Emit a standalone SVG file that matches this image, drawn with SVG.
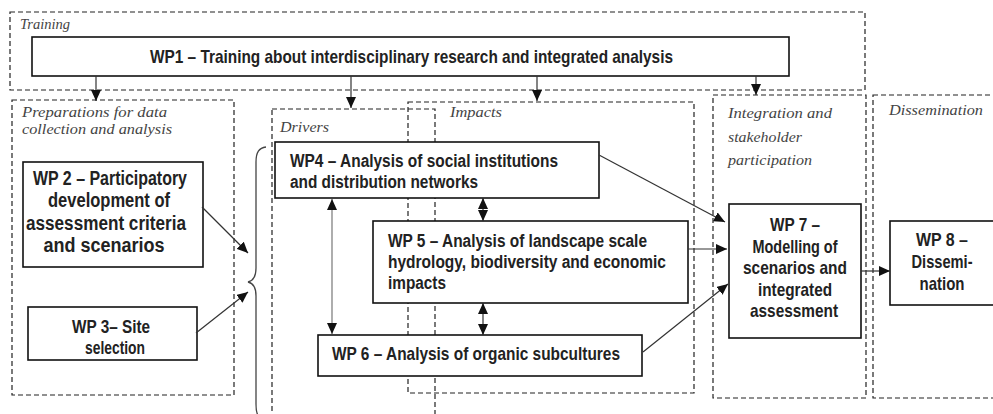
<svg xmlns="http://www.w3.org/2000/svg" width="993" height="414" viewBox="0 0 993 414">
  <style>
    .zone { fill: none; stroke: #222; stroke-width: 1.2; stroke-dasharray: 5 3; }
    .zlabel { font-family: "Liberation Serif", "DejaVu Serif", serif; font-style: italic; font-size: 15px; fill: #444; }
    .box { fill: #fff; stroke: #111; stroke-width: 1.6; }
    .t { font-family: "Liberation Sans", Arial, sans-serif; font-weight: bold; fill: #222; }
    .c { text-anchor: middle; }
    .link { fill: none; stroke: #333; stroke-width: 1.2; }
    .brace { fill: none; stroke: #444; stroke-width: 1.3; }
  </style>
  <defs>
    <marker id="ah" markerUnits="userSpaceOnUse" markerWidth="12" markerHeight="10" refX="11" refY="5" orient="auto-start-reverse">
      <path d="M0,0 L11,5 L0,10 z" fill="#111"/>
    </marker>
  </defs>

  <rect width="993" height="414" fill="#fff"/>

  <!-- dashed work areas -->
  <g id="zone-training">
    <rect class="zone" x="10" y="12" width="855" height="78"/>
    <text class="zlabel" x="20" y="29" textLength="50" lengthAdjust="spacingAndGlyphs">Training</text>
  </g>
  <g id="zone-preparations">
    <rect class="zone" x="12" y="100" width="222" height="295"/>
    <text class="zlabel" x="22" y="117" textLength="145" lengthAdjust="spacingAndGlyphs">Preparations for data</text>
    <text class="zlabel" x="22" y="134" textLength="150" lengthAdjust="spacingAndGlyphs">collection and analysis</text>
  </g>
  <g id="zone-impacts">
    <rect class="zone" x="408" y="102" width="286" height="291"/>
    <text class="zlabel" x="450" y="117" textLength="52" lengthAdjust="spacingAndGlyphs">Impacts</text>
  </g>
  <g id="zone-drivers">
    <rect class="zone" x="272" y="109" width="163" height="320"/>
    <text class="zlabel" x="280" y="132" textLength="49" lengthAdjust="spacingAndGlyphs">Drivers</text>
  </g>
  <g id="zone-integration">
    <rect class="zone" x="713" y="95" width="153" height="303"/>
    <text class="zlabel" x="728" y="118" textLength="104" lengthAdjust="spacingAndGlyphs">Integration and</text>
    <text class="zlabel" x="728" y="142" textLength="74" lengthAdjust="spacingAndGlyphs">stakeholder</text>
    <text class="zlabel" x="728" y="165" textLength="84" lengthAdjust="spacingAndGlyphs">participation</text>
  </g>
  <g id="zone-dissemination">
    <rect class="zone" x="873" y="95" width="130" height="303"/>
    <text class="zlabel" x="889" y="115" textLength="94" lengthAdjust="spacingAndGlyphs">Dissemination</text>
  </g>

  <!-- work packages -->
  <g id="wp1">
    <rect class="box" x="32" y="37" width="757" height="39"/>
    <text class="t" x="150" y="63" font-size="19" textLength="523" lengthAdjust="spacingAndGlyphs">WP1 – Training about interdisciplinary research and integrated analysis</text>
  </g>
  <g id="wp2">
    <rect class="box" x="23" y="162" width="180" height="105"/>
    <text class="t c" x="110" y="185" font-size="20" textLength="154" lengthAdjust="spacingAndGlyphs">WP 2 – Participatory</text>
    <text class="t c" x="109" y="207" font-size="20" textLength="122" lengthAdjust="spacingAndGlyphs">development of</text>
    <text class="t c" x="106" y="230" font-size="20" textLength="160" lengthAdjust="spacingAndGlyphs">assessment criteria</text>
    <text class="t c" x="104" y="252" font-size="20" textLength="121" lengthAdjust="spacingAndGlyphs">and scenarios</text>
  </g>
  <g id="wp3">
    <rect class="box" x="28" y="307" width="169" height="53"/>
    <text class="t c" x="111" y="333" font-size="19" textLength="78" lengthAdjust="spacingAndGlyphs">WP 3– Site</text>
    <text class="t c" x="115" y="354" font-size="19" textLength="60" lengthAdjust="spacingAndGlyphs">selection</text>
  </g>
  <g id="wp4">
    <rect class="box" x="275" y="142" width="324" height="56"/>
    <text class="t" x="290" y="167" font-size="18" textLength="268" lengthAdjust="spacingAndGlyphs">WP4 – Analysis of social institutions</text>
    <text class="t" x="290" y="188" font-size="18" textLength="188" lengthAdjust="spacingAndGlyphs">and distribution networks</text>
  </g>
  <g id="wp5">
    <rect class="box" x="373" y="221" width="315" height="82"/>
    <text class="t" x="388" y="247" font-size="18" textLength="259" lengthAdjust="spacingAndGlyphs">WP 5 – Analysis of landscape scale</text>
    <text class="t" x="388" y="268" font-size="18" textLength="278" lengthAdjust="spacingAndGlyphs">hydrology, biodiversity and economic</text>
    <text class="t" x="388" y="289" font-size="18" textLength="58" lengthAdjust="spacingAndGlyphs">impacts</text>
  </g>
  <g id="wp6">
    <rect class="box" x="318" y="335" width="324" height="41"/>
    <text class="t" x="332" y="360" font-size="19" textLength="288" lengthAdjust="spacingAndGlyphs">WP 6 – Analysis of organic subcultures</text>
  </g>
  <g id="wp7">
    <rect class="box" x="729" y="204" width="132" height="134"/>
    <text class="t c" x="795" y="231" font-size="19" textLength="50" lengthAdjust="spacingAndGlyphs">WP 7 –</text>
    <text class="t c" x="795" y="253" font-size="19" textLength="85" lengthAdjust="spacingAndGlyphs">Modelling of</text>
    <text class="t c" x="795" y="274" font-size="19" textLength="104" lengthAdjust="spacingAndGlyphs">scenarios and</text>
    <text class="t c" x="795" y="296" font-size="19" textLength="74" lengthAdjust="spacingAndGlyphs">integrated</text>
    <text class="t c" x="794" y="317" font-size="19" textLength="88" lengthAdjust="spacingAndGlyphs">assessment</text>
  </g>
  <g id="wp8">
    <rect class="box" x="890" y="221" width="110" height="84"/>
    <text class="t c" x="942" y="246" font-size="19" textLength="52" lengthAdjust="spacingAndGlyphs">WP 8 –</text>
    <text class="t c" x="942" y="268" font-size="19" textLength="61" lengthAdjust="spacingAndGlyphs">Dissemi-</text>
    <text class="t c" x="942" y="290" font-size="19" textLength="45" lengthAdjust="spacingAndGlyphs">nation</text>
  </g>

  <!-- brace grouping WP2 and WP3 inputs -->
  <path id="brace" class="brace" d="M266,147 C259,148 256,152 256,162 L256,268 C256,277 253,281 248,282 C253,283 256,287 256,296 L256,404 C256,414 258,418 264,420"/>

  <!-- connectors -->
  <g id="connectors">
    <line class="link" x1="96" y1="76" x2="96" y2="101" marker-end="url(#ah)"/>
    <line class="link" x1="351" y1="76" x2="351" y2="108" marker-end="url(#ah)"/>
    <line class="link" x1="537" y1="76" x2="537" y2="101" marker-end="url(#ah)"/>
    <line class="link" x1="756" y1="76" x2="756" y2="95" marker-end="url(#ah)"/>

    <line class="link" x1="202" y1="207" x2="248" y2="253" marker-end="url(#ah)"/>
    <line class="link" x1="196" y1="333" x2="248" y2="292" marker-end="url(#ah)"/>

    <line class="link" x1="332" y1="199" x2="332" y2="334" marker-start="url(#ah)" marker-end="url(#ah)" style="stroke:#777"/>
    <line class="link" x1="483" y1="198" x2="483" y2="221" marker-start="url(#ah)" marker-end="url(#ah)"/>
    <line class="link" x1="483" y1="303" x2="483" y2="335" marker-start="url(#ah)" marker-end="url(#ah)"/>

    <line class="link" x1="599" y1="155" x2="725" y2="222" marker-end="url(#ah)"/>
    <line class="link" x1="688" y1="249" x2="727" y2="249" marker-end="url(#ah)"/>
    <line class="link" x1="643" y1="352" x2="728" y2="284" marker-end="url(#ah)"/>

    <line class="link" x1="861" y1="271" x2="890" y2="271" marker-end="url(#ah)"/>
  </g>
</svg>
